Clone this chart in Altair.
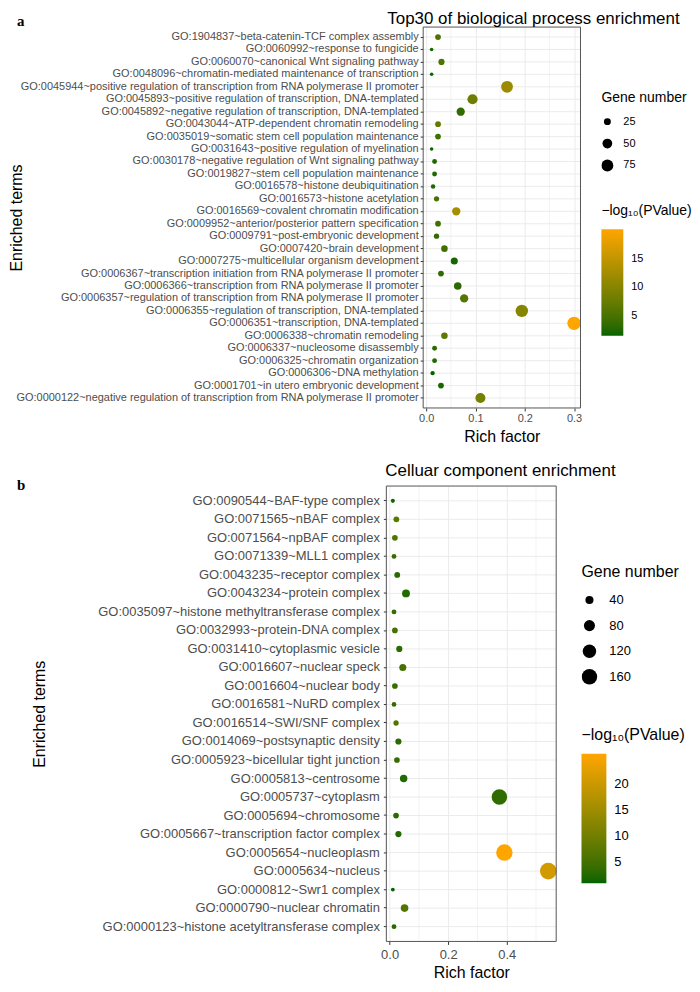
import altair as alt
import pandas as pd

FONT = "Liberation Sans"
GRID = "#ebebeb"
FRAME = "#555555"

# ---------------- Panel a: biological process ----------------
bp_terms = [
    "GO:1904837~beta-catenin-TCF complex assembly",
    "GO:0060992~response to fungicide",
    "GO:0060070~canonical Wnt signaling pathway",
    "GO:0048096~chromatin-mediated maintenance of transcription",
    "GO:0045944~positive regulation of transcription from RNA polymerase II promoter",
    "GO:0045893~positive regulation of transcription, DNA-templated",
    "GO:0045892~negative regulation of transcription, DNA-templated",
    "GO:0043044~ATP-dependent chromatin remodeling",
    "GO:0035019~somatic stem cell population maintenance",
    "GO:0031643~positive regulation of myelination",
    "GO:0030178~negative regulation of Wnt signaling pathway",
    "GO:0019827~stem cell population maintenance",
    "GO:0016578~histone deubiquitination",
    "GO:0016573~histone acetylation",
    "GO:0016569~covalent chromatin modification",
    "GO:0009952~anterior/posterior pattern specification",
    "GO:0009791~post-embryonic development",
    "GO:0007420~brain development",
    "GO:0007275~multicellular organism development",
    "GO:0006367~transcription initiation from RNA polymerase II promoter",
    "GO:0006366~transcription from RNA polymerase II promoter",
    "GO:0006357~regulation of transcription from RNA polymerase II promoter",
    "GO:0006355~regulation of transcription, DNA-templated",
    "GO:0006351~transcription, DNA-templated",
    "GO:0006338~chromatin remodeling",
    "GO:0006337~nucleosome disassembly",
    "GO:0006325~chromatin organization",
    "GO:0006306~DNA methylation",
    "GO:0001701~in utero embryonic development",
    "GO:0000122~negative regulation of transcription from RNA polymerase II promoter",
]
bp_rich = [0.024, 0.011, 0.031, 0.011, 0.164, 0.094, 0.070, 0.024, 0.024, 0.011,
           0.017, 0.017, 0.014, 0.021, 0.061, 0.024, 0.021, 0.037, 0.057, 0.030,
           0.064, 0.077, 0.194, 0.300, 0.037, 0.017, 0.017, 0.013, 0.030, 0.110]
bp_count = [17, 6, 20, 6, 74, 55, 36, 17, 17, 6,
            12, 12, 10, 14, 36, 17, 14, 22, 26, 17,
            30, 36, 81, 95, 22, 12, 12, 10, 17, 53]
bp_logp = [5.5, 2.0, 5.5, 1.8, 11.8, 8.0, 3.5, 7.0, 4.5, 1.8,
           2.5, 2.5, 2.5, 5.0, 12.7, 4.5, 3.5, 4.5, 2.0, 3.5,
           3.0, 6.0, 10.0, 20.2, 6.5, 3.0, 2.5, 1.5, 2.2, 8.6]
bp_major = [0.0, 0.1, 0.2, 0.3]
bp_minor = [0.05, 0.15, 0.25]
bp_size_breaks = [25, 50, 75]
bp_color_breaks = [5, 10, 15]

# ---------------- Panel b: cellular component ----------------
cc_terms = [
    "GO:0090544~BAF-type complex",
    "GO:0071565~nBAF complex",
    "GO:0071564~npBAF complex",
    "GO:0071339~MLL1 complex",
    "GO:0043235~receptor complex",
    "GO:0043234~protein complex",
    "GO:0035097~histone methyltransferase complex",
    "GO:0032993~protein-DNA complex",
    "GO:0031410~cytoplasmic vesicle",
    "GO:0016607~nuclear speck",
    "GO:0016604~nuclear body",
    "GO:0016581~NuRD complex",
    "GO:0016514~SWI/SNF complex",
    "GO:0014069~postsynaptic density",
    "GO:0005923~bicellular tight junction",
    "GO:0005813~centrosome",
    "GO:0005737~cytoplasm",
    "GO:0005694~chromosome",
    "GO:0005667~transcription factor complex",
    "GO:0005654~nucleoplasm",
    "GO:0005634~nucleus",
    "GO:0000812~Swr1 complex",
    "GO:0000790~nuclear chromatin",
    "GO:0000123~histone acetyltransferase complex",
]
cc_rich = [0.011, 0.023, 0.018, 0.015, 0.026, 0.056, 0.015, 0.018, 0.033, 0.045,
           0.018, 0.015, 0.022, 0.030, 0.025, 0.048, 0.375, 0.022, 0.030, 0.392,
           0.542, 0.011, 0.051, 0.015]
cc_count = [6, 18, 17, 11, 18, 38, 11, 17, 21, 29,
            17, 10, 14, 21, 17, 33, 162, 17, 21, 182,
            190, 5, 35, 11]
cc_logp = [1.5, 7.7, 6.4, 4.0, 3.0, 2.5, 4.0, 5.2, 3.0, 5.2,
           4.0, 4.0, 6.7, 3.0, 4.0, 2.5, 3.5, 3.0, 2.5, 25.7,
           20.8, 1.0, 6.7, 3.0]
cc_major = [0.0, 0.2, 0.4]
cc_minor = [0.1, 0.3, 0.5]
cc_size_breaks = [40, 80, 120, 160]
cc_color_breaks = [5, 10, 15, 20]

LOGP_TITLE = "\u2212log\u2081\u2080(PValue)"


def panel(terms, rich, count, logp, major, minor_vals, size_breaks, color_breaks, p):
    df = pd.DataFrame({"term": terms, "rich": rich, "count": count, "logp": logp})
    x0, x1 = p["xr"]          # pixel span of the panel inside the view
    xscale = alt.Scale(domain=p["xdom"], range=[x0, x1], nice=False, zero=False)
    xaxis = alt.Axis(
        values=major, format=".1f", title="Rich factor", grid=True, gridColor=GRID,
        gridWidth=1, domain=False, tickSize=3, tickColor="#333333",
        labelFont=FONT, labelFontSize=p["lab"], labelColor="#4d4d4d",
        labelPadding=p["xlp"], titleFont=FONT, titleFontSize=16,
        titleFontWeight="normal", titleColor="black", titlePadding=p["xtp"],
        titleX=(x0 + x1) / 2, titleAlign="center",
    )
    yscale = alt.Scale(padding=0.6)
    yaxis = alt.Axis(
        title="Enriched terms", grid=False, offset=-x0,
        domain=False, tickSize=3, tickColor="#333333",
        labelFont=FONT, labelFontSize=p["ylab"], labelColor="#4d4d4d",
        labelPadding=p["ylp"], labelLimit=0,
        titleFont=FONT, titleFontSize=16, titleFontWeight="normal",
        titleColor="black", titleAngle=270, titleBaseline="bottom",
        titleAlign="center", titleX=p["ytx"],
    )
    y_enc = alt.Y("term:N", sort=terms, scale=yscale, axis=yaxis)

    minor = alt.Chart(pd.DataFrame({"rich": minor_vals})).mark_rule(
        color=GRID, strokeWidth=0.6
    ).encode(x=alt.X("rich:Q", scale=xscale, axis=xaxis))

    hgrid = alt.Chart(df).mark_rule(color=GRID, strokeWidth=1).encode(
        y=y_enc, x=alt.value(x0), x2=alt.value(x1)
    )

    pts = alt.Chart(df).mark_circle(opacity=1, strokeWidth=0).encode(
        x=alt.X("rich:Q", scale=xscale, axis=xaxis),
        y=y_enc,
        size=alt.Size(
            "count:Q",
            scale=alt.Scale(domain=p["sdom"], range=p["srange"], zero=False),
            legend=alt.Legend(
                title="Gene number", orient="none", legendX=p["lx"], legendY=p["sy"],
                values=size_breaks, symbolFillColor="black", symbolStrokeWidth=0,
                symbolOpacity=1, symbolType="circle",
                titleFont=FONT, titleFontSize=p["lt"], titleFontWeight="normal",
                titleColor="black", titlePadding=p["stp"],
                labelFont=FONT, labelFontSize=p["ll"], labelColor="black",
                labelOffset=p["slo"], clipHeight=p["clip"], rowPadding=p["rp"],
            ),
        ),
        color=alt.Color(
            "logp:Q",
            scale=alt.Scale(domain=p["cdom"], range=["#006400", "#FFA500"],
                            interpolate="lab"),
            legend=alt.Legend(
                title=LOGP_TITLE, orient="none", legendX=p["lx"], legendY=p["cy"],
                values=color_breaks, direction="vertical",
                gradientLength=p["glen"], gradientThickness=p["gth"],
                gradientStrokeWidth=0,
                titleFont=FONT, titleFontSize=p["lt"], titleFontWeight="normal",
                titleColor="black", titlePadding=p["ctp"],
                labelFont=FONT, labelFontSize=p["ll"], labelColor="black",
                labelOffset=8,
            ),
        ),
    )

    one = pd.DataFrame({"t": [p["title"]], "l": [p["letter"]]})
    border = alt.Chart(one).mark_rect(
        fillOpacity=0, stroke=FRAME, strokeWidth=1
    ).encode(x=alt.value(x0), x2=alt.value(x1), y=alt.value(0), y2=alt.value(p["h"]))
    title = alt.Chart(one).mark_text(
        font=FONT, fontSize=17, align="left", baseline="alphabetic", color="black"
    ).encode(text="t:N", x=alt.value(p["tx"]), y=alt.value(p["ty"]))
    letter = alt.Chart(one).mark_text(
        font="Liberation Serif", fontWeight="bold", fontSize=15, align="left",
        baseline="middle", color="black"
    ).encode(text="l:N", x=alt.value(p["ax"]), y=alt.value(p["ay"]))
    anchor = alt.Chart(one).mark_rule(color="white", strokeWidth=1).encode(
        x=alt.value(p["anc"]), x2=alt.value(p["anc"]),
        y=alt.value(0), y2=alt.value(1)
    )
    return alt.layer(anchor, minor, hgrid, pts, border, title, letter).properties(
        width=x1, height=p["h"]
    )


# both views share the same left origin (page x ~387); panel a is drawn 37 px to its right
top = panel(
    bp_terms, bp_rich, bp_count, bp_logp, bp_major, bp_minor,
    bp_size_breaks, bp_color_breaks,
    dict(
        xr=(37, 195), xdom=[-0.0061, 0.313], h=382.6, lab=11, ylab=11, xlp=2, xtp=5,
        ylp=2, ytx=-400, sdom=[6, 95], srange=[12.6, 181], cdom=[1.5, 20.2],
        lx=216, sy=64, cy=178, lt=14, ll=11, stp=9, ctp=11, slo=10,
        clip=16, rp=6, glen=107, gth=22,
        title="Top30 of biological process enrichment", letter="a",
        tx=1, ty=-3, ax=-371, ay=-6.4, anc=-379,
    ),
)

bottom = panel(
    cc_terms, cc_rich, cc_count, cc_logp, cc_major, cc_minor,
    cc_size_breaks, cc_color_breaks,
    dict(
        xr=(0, 170.6), xdom=[-0.0112, 0.569], h=457.4, lab=13, ylab=13, xlp=4, xtp=3,
        ylp=4, ytx=-340, sdom=[5, 190], srange=[15.2, 283.5], cdom=[1.0, 25.7],
        lx=196, sy=78, cy=242, lt=16, ll=13, stp=11, ctp=11, slo=12,
        clip=19, rp=6.7, glen=130, gth=25,
        title="Celluar component enrichment", letter="b",
        tx=-1, ty=-10.4, ax=-371, ay=-1.4, anc=-379,
    ),
)

chart = alt.ConcatChart(
    concat=[top, bottom], columns=1, spacing=16
).resolve_scale(
    color="independent", size="independent"
).properties(
    padding={"left": 0, "top": 0, "right": 0, "bottom": -3},
    background="white",
).configure_view(strokeWidth=0)

chart.save("out.html", embed_options={"renderer": "svg", "actions": False})
